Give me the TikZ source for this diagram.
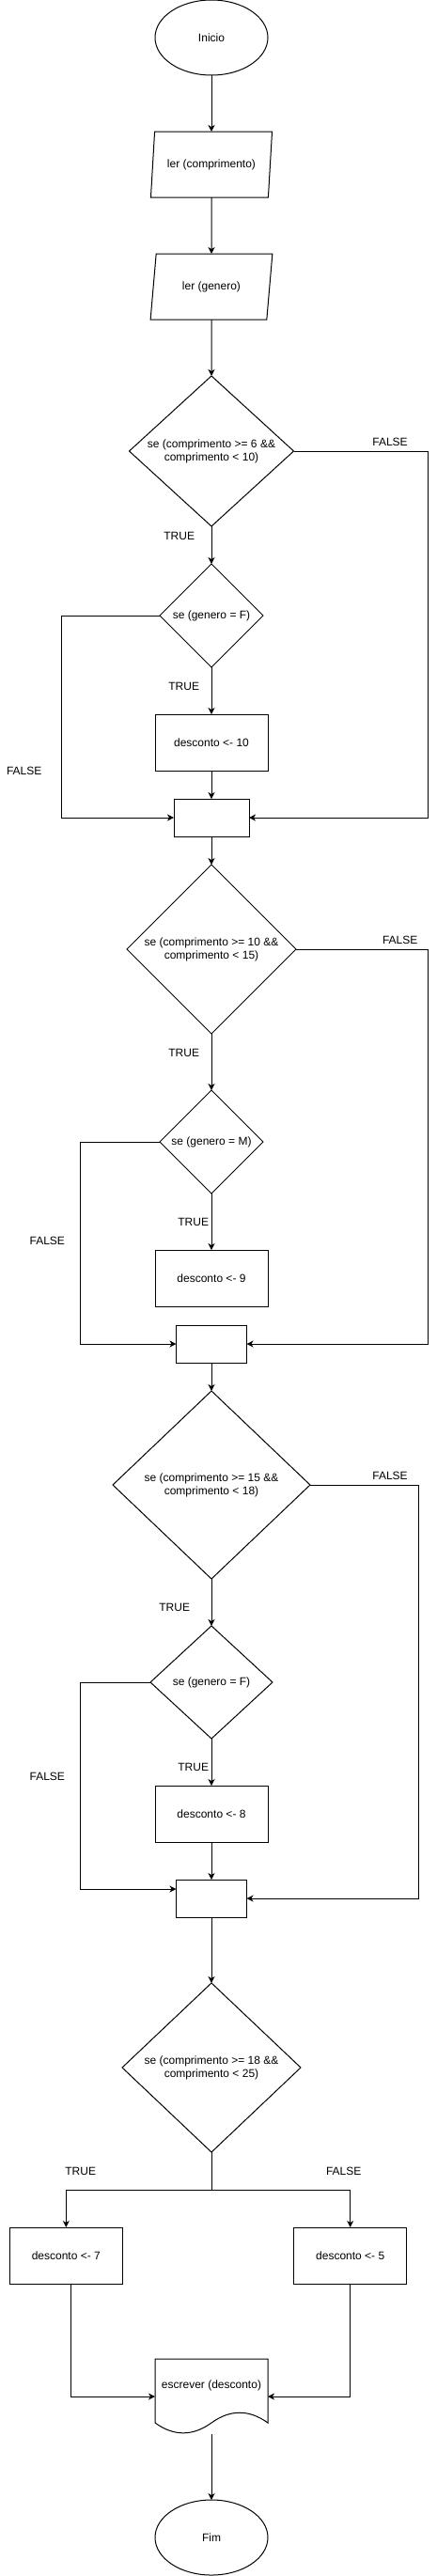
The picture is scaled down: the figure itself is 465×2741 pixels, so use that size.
\documentclass[tikz,border=0pt]{standalone}
\usepackage{fontspec}
\setmainfont{Liberation Sans}
\usetikzlibrary{shapes.geometric,arrows.meta,calc}
\tikzset{
  base/.style={draw=black, line width=1pt, inner sep=0pt, outer sep=0pt, font=\fontsize{12pt}{14pt}\selectfont},
  term/.style={base, ellipse, minimum width=120pt, minimum height=80pt},
  io/.style={base, trapezium, trapezium left angle=74.05, trapezium right angle=105.95, trapezium stretches=true, minimum width=130pt, minimum height=70pt},
  proc/.style={base, rectangle, minimum width=120pt, minimum height=60pt},
  joinbox/.style={base, rectangle, minimum height=40pt},
  cond/.style={base, diamond, aspect=1},
  condtext/.style={align=center, font=\fontsize{12pt}{14pt}\selectfont, inner sep=0pt},
  lbl/.style={inner sep=0pt, font=\fontsize{12pt}{14pt}\selectfont},
  arr/.style={line width=1pt, -{Stealth[length=7pt, width=7pt, inset=2pt]}},
}
\begin{document}
\begin{tikzpicture}[x=1pt, y=-1pt]
\useasboundingbox (0,0) rectangle (465,2741);
% nodes
\node[term] (inicio) at (225,40) {Inicio};
\node[io] (ler1) at (225,175) {ler (comprimento)};
\node[io] (ler2) at (225,305) {ler (genero)};
\node[cond, minimum width=175pt, minimum height=160pt, label={[condtext]center:se (comprimento >= 6 \&\&\\comprimento < 10)}] (d1) at (225,480) {};
\node[cond, minimum width=110pt, minimum height=110pt, label={[condtext]center:se (genero = F)}] (d2) at (225,655) {};
\node[proc] (b10) at (225,790) {desconto <- 10};
\node[joinbox, minimum width=80pt] (j1) at (225,870) {};
\node[cond, minimum width=180pt, minimum height=180pt, label={[condtext]center:se (comprimento >= 10 \&\&\\comprimento < 15)}] (d3) at (225,1010) {};
\node[cond, minimum width=110pt, minimum height=110pt, label={[condtext]center:se (genero = M)}] (d4) at (225,1215) {};
\node[proc] (b9) at (225,1360) {desconto <- 9};
\node[joinbox, minimum width=75pt] (j2) at (225,1430) {};
\node[cond, minimum width=210pt, minimum height=200pt, label={[condtext]center:se (comprimento >= 15 \&\&\\comprimento < 18)}] (d5) at (225,1580) {};
\node[cond, minimum width=130pt, minimum height=120pt, label={[condtext]center:se (genero = F)}] (d6) at (225,1790) {};
\node[proc] (b8) at (225,1930) {desconto <- 8};
\node[joinbox, minimum width=75pt] (j3) at (225,2020) {};
\node[cond, minimum width=190pt, minimum height=180pt, label={[condtext]center:se (comprimento >= 18 \&\&\\comprimento < 25)}] (d7) at (225,2200) {};
\node[proc] (b7) at (70.3,2400) {desconto <- 7};
\node[proc] (b5) at (372.7,2400) {desconto <- 5};
\node[base, draw=none, rectangle, minimum width=120pt, minimum height=80pt, label={[lbl, yshift=11.3pt]center:escrever (desconto)}] (doc) at (225,2550) {};
\node[term] (fim) at (225,2700) {Fim};
% document shape
\begin{scope}[shift={(doc.north west)}]
\draw[line width=1pt] (0,0) -- (120,0) -- (120,68) .. controls (100,53.6) and (80,53.6) .. (60,68) .. controls (40,82.4) and (20,82.4) .. (0,68) -- cycle;
\end{scope}
% helper coordinates
\coordinate (r1) at (455,870);
\coordinate (l1) at (65.3,870);
\coordinate (r2) at (455.3,1430);
\coordinate (l2) at (85.7,1430);
\coordinate (r3) at (445.3,2020);
\coordinate (l3) at (85.7,2010);
\coordinate (br) at (225,2330);
\coordinate (bl) at (75.7,2550);
% connectors
\draw[arr] (inicio) -- (ler1);
\draw[arr] (ler1) -- (ler2);
\draw[arr] (ler2) -- (d1);
\draw[arr] (d1) -- (d2);
\draw[arr] (d2) -- (b10);
\draw[arr] (b10) -- (j1);
\draw[arr] (d1.east) -| (r1) -- (j1.east);
\draw[arr] (d2.west) -| (l1) -- (j1.west);
\draw[arr] (j1) -- (d3);
\draw[arr] (d3) -- (d4);
\draw[arr] (d4) -- (b9);
\draw[arr] (d3.east) -| (r2) -- (j2.east);
\draw[arr] (d4.west) -| (l2) -- (j2.west);
\draw[arr] (j2) -- (d5);
\draw[arr] (d5) -- (d6);
\draw[arr] (d6) -- (b8);
\draw[arr] (b8) -- (j3);
\draw[arr] (d5.east) -| (r3) -- (j3.east);
\draw[arr] (d6.west) -| (l3) -- (l3 -| j3.west);
\draw[arr] (j3) -- (d7);
\draw[arr] (d7.south) -- (br) -| (b7.north);
\draw[arr] (d7.south) -- (br) -| (b5.north);
\draw[arr] (b7.south -| bl) -- (bl) -- (doc.west);
\draw[arr] (b5.south) |- (doc.east);
\draw[arr] (doc.south) -- (fim.north);
% labels
\node[lbl] (t1) at (190.7,570.7) {TRUE};
\node[lbl] (t2) at (195.7,730.7) {TRUE};
\node[lbl] (f1) at (415,470.7) {FALSE};
\node[lbl] (f2) at (25.7,820.7) {FALSE};
\node[lbl] (t3) at (195.7,1120.7) {TRUE};
\node[lbl] (t4) at (205.7,1300.7) {TRUE};
\node[lbl] (f3) at (425.7,1000.7) {FALSE};
\node[lbl] (f4) at (50.3,1320.7) {FALSE};
\node[lbl] (t5) at (185.7,1710.7) {TRUE};
\node[lbl] (t6) at (205.7,1880.7) {TRUE};
\node[lbl] (f5) at (415,1570.3) {FALSE};
\node[lbl] (f6) at (50.3,1890.7) {FALSE};
\node[lbl] (t7) at (85.7,2310.7) {TRUE};
\node[lbl] (f7) at (365.7,2310.7) {FALSE};
\end{tikzpicture}
\end{document}
